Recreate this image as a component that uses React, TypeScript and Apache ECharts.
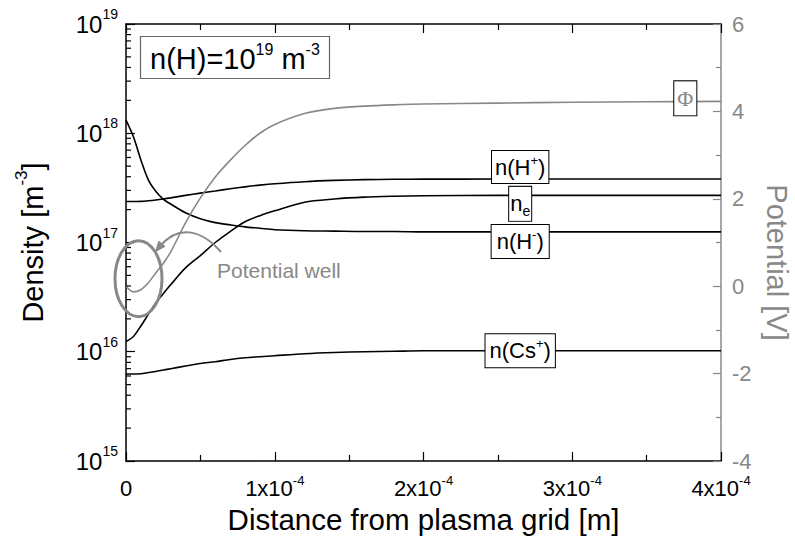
import React, { useEffect, useRef } from 'react';
import * as echarts from 'echarts';

// Distance from plasma grid [m]
const distance = [0, 5e-6, 1e-5, 1.5e-5, 2e-5, 2.5e-5, 3e-5, 4e-5, 5e-5, 6e-5, 7e-5, 8e-5, 9e-5, 1e-4, 1.2e-4, 1.4e-4, 1.6e-4, 1.8e-4, 2e-4, 2.5e-4, 3e-4, 3.5e-4, 4e-4];
// Densities [m^-3]
const nHminus = [1.32e18, 9.3e17, 5.7e17, 3.75e17, 2.95e17, 2.5e17, 2.25e17, 1.87e17, 1.65e17, 1.52e17, 1.45e17, 1.39e17, 1.35e17, 1.31e17, 1.28e17, 1.27e17, 1.26e17, 1.26e17, 1.25e17, 1.25e17, 1.25e17, 1.25e17, 1.25e17];
const nHplus = [2.37e17, 2.37e17, 2.38e17, 2.41e17, 2.45e17, 2.5e17, 2.56e17, 2.7e17, 2.83e17, 2.96e17, 3.1e17, 3.23e17, 3.35e17, 3.45e17, 3.6e17, 3.7e17, 3.76e17, 3.79e17, 3.8e17, 3.81e17, 3.81e17, 3.81e17, 3.81e17];
const nElectron = [1.24e16, 1.38e16, 1.72e16, 2.2e16, 2.8e16, 3.4e16, 4.1e16, 5.85e16, 7.6e16, 1.0e17, 1.26e17, 1.55e17, 1.76e17, 1.95e17, 2.34e17, 2.5e17, 2.6e17, 2.65e17, 2.68e17, 2.7e17, 2.7e17, 2.7e17, 2.7e17];
const nCsPlus = [6.25e15, 6.25e15, 6.3e15, 6.45e15, 6.6e15, 6.8e15, 7.0e15, 7.4e15, 7.8e15, 8.1e15, 8.5e15, 8.8e15, 9.0e15, 9.2e15, 9.6e15, 9.85e15, 1.0e16, 1.01e16, 1.02e16, 1.02e16, 1.02e16, 1.02e16, 1.02e16];
// Potential [V]
const potential = [0.0, -0.13, -0.08, 0.08, 0.3, 0.52, 0.78, 1.45, 2.02, 2.5, 2.88, 3.22, 3.5, 3.7, 3.95, 4.07, 4.12, 4.15, 4.17, 4.19, 4.21, 4.22, 4.23];

const xTickMultiples = ['0', '1', '2', '3', '4'];

const FONT = 'Liberation Sans, Arial, Helvetica, sans-serif';
const GRAY = '#888888';

const LABEL_X = 2.65e-4;
const PHI_LABEL_X = 3.76e-4;

function rich(size: number, sup: number, color = '#000', mainLH?: number) {
  return {
    b: { fontSize: size, lineHeight: mainLH ?? size + 4, color, fontFamily: FONT, fontWeight: 'normal' },
    s: { fontSize: sup, lineHeight: sup, verticalAlign: 'top', color, fontFamily: FONT, fontWeight: 'normal' },
    e: { fontSize: sup, lineHeight: sup, verticalAlign: 'bottom', color, fontFamily: FONT, fontWeight: 'normal' },
  };
}

function zip(ys: number[]) {
  return distance.map((x, i) => [x, ys[i]]);
}

function curveLabel(text: string, value: number, dy: number, pad: number[], r: any, x = LABEL_X) {
  return {
    symbol: 'circle',
    symbolSize: 1,
    silent: true,
    itemStyle: { color: 'transparent' },
    data: [{ coord: [x, value] }],
    label: {
      show: true,
      position: 'inside',
      offset: [0, dy],
      formatter: text,
      backgroundColor: '#fff',
      borderColor: '#000',
      borderWidth: 1,
      padding: pad,
      rich: r,
    },
  };
}

export default function App() {
  const ref = useRef<HTMLDivElement>(null);
  useEffect(() => {
    if (!ref.current) return;
    const chart = echarts.init(ref.current, undefined, { renderer: 'svg' });

    const logMinor: number[][] = [];
    for (let e = 15; e < 19; e++) {
      for (let k = 2; k <= 9; k++) logMinor.push([0, k * Math.pow(10, e)]);
    }

    const xAxisBase = {
      type: 'value',
      min: 0,
      max: 4e-4,
      interval: 1e-4,
      splitLine: { show: false },
      axisLine: { show: true, onZero: false, lineStyle: { color: '#000', width: 1.5 } },
      axisTick: { show: true, inside: true, length: 9, lineStyle: { color: '#000', width: 1.2 } },
      minorTick: { show: true, splitNumber: 2, length: 6, lineStyle: { color: '#000', width: 1.2 } },
    };

    const lineBase = {
      type: 'line',
      showSymbol: false,
      symbol: 'none',
      smooth: 0.3,
      xAxisIndex: 0,
      z: 2,
    };

    const option: any = {
      animation: false,
      backgroundColor: '#fff',
      textStyle: { fontFamily: FONT, fontWeight: 'normal' },
      grid: { left: 126, right: 74, top: 24, bottom: 89, outerBoundsMode: 'none' },
      title: {
        text: '{b|n(H)=10}{s|19}{b| m}{s|-3}',
        left: 140,
        top: 36,
        padding: [5, 10],
        borderColor: '#666',
        borderWidth: 1.2,
        backgroundColor: '#fff',
        textStyle: { fontWeight: 'normal', rich: rich(29, 16, '#000', 36) },
      },
      xAxis: [
        {
          ...xAxisBase,
          position: 'bottom',
          axisLabel: {
            margin: 13,
            formatter: (v: number) => {
              const i = Math.round(v * 1e4);
              const m = xTickMultiples[i];
              return i === 0 ? `{b|${m}}` : `{b|${m}x10}{s|-4}`;
            },
            rich: rich(22, 13, '#000', 28),
          },
          name: 'Distance from plasma grid [m]',
          nameLocation: 'middle',
          nameGap: 43,
          nameTextStyle: { fontSize: 29.5, color: '#000', fontFamily: FONT },
        },
        {
          ...xAxisBase,
          position: 'top',
          axisLabel: { show: false },
        },
      ],
      yAxis: [
        {
          type: 'log',
          logBase: 10,
          min: 1e15,
          max: 1e19,
          position: 'left',
          splitLine: { show: false },
          axisLine: { show: true, onZero: false, lineStyle: { color: '#000', width: 1.5 } },
          axisTick: { show: true, inside: true, length: 9, lineStyle: { color: '#000', width: 1.2 } },
          axisLabel: {
            margin: 8,
            formatter: (v: number) => `{b|10}{s|${Math.round(Math.log10(v))}}`,
            rich: rich(24, 14, '#000', 34),
          },
          name: '{b|Density [m}{s|-3}{b|]}',
          nameLocation: 'middle',
          nameRotate: 90,
          nameGap: 73,
          nameTextStyle: { rich: rich(29, 17, '#000', 40) },
        },
        {
          type: 'value',
          min: -4,
          max: 6,
          interval: 2,
          position: 'right',
          splitLine: { show: false },
          axisLine: { show: true, onZero: false, lineStyle: { color: GRAY, width: 1.5 } },
          axisTick: { show: true, inside: true, length: 8, lineStyle: { color: GRAY, width: 1.2 } },
          minorTick: { show: true, splitNumber: 2, length: 5, lineStyle: { color: GRAY, width: 1.2 } },
          axisLabel: { margin: 11, color: GRAY, fontSize: 22, lineHeight: 14, fontFamily: FONT },
          name: 'Potential [V]',
          nameLocation: 'middle',
          nameRotate: -90,
          nameGap: 40,
          nameTextStyle: { color: GRAY, fontSize: 29, fontFamily: FONT, padding: [0, 0, 0, 40] },
        },
      ],
      series: [
        {
          type: 'custom',
          xAxisIndex: 0,
          yAxisIndex: 0,
          silent: true,
          clip: false,
          z: 3,
          data: logMinor,
          renderItem: (_p: any, api: any) => {
            const pt = api.coord([0, api.value(1)]);
            return {
              type: 'line',
              shape: { x1: pt[0], y1: pt[1], x2: pt[0] + 5, y2: pt[1] },
              style: { stroke: '#000', lineWidth: 1.2 },
            };
          },
        },
        {
          ...lineBase,
          name: 'n(H-)',
          yAxisIndex: 0,
          data: zip(nHminus),
          lineStyle: { color: '#000', width: 1.6 },
          itemStyle: { color: '#000' },
          markPoint: curveLabel('{b|n(H}{s|-}{b|)}', nHminus[nHminus.length - 1], 9.5, [3, 5], rich(22, 13, '#000', 27)),
        },
        {
          ...lineBase,
          name: 'n(H+)',
          yAxisIndex: 0,
          data: zip(nHplus),
          lineStyle: { color: '#000', width: 1.6 },
          itemStyle: { color: '#000' },
          markPoint: curveLabel('{b|n(H}{s|+}{b|)}', nHplus[nHplus.length - 1], -12, [3, 3], rich(22, 13, '#000', 26)),
        },
        {
          ...lineBase,
          name: 'ne',
          yAxisIndex: 0,
          data: zip(nElectron),
          lineStyle: { color: '#000', width: 1.6 },
          itemStyle: { color: '#000' },
          markPoint: curveLabel('{b|n}{e|e}', nElectron[nElectron.length - 1], 8.5, [3, 1], rich(22, 14, '#000', 28)),
        },
        {
          ...lineBase,
          name: 'n(Cs+)',
          yAxisIndex: 0,
          data: zip(nCsPlus),
          lineStyle: { color: '#000', width: 1.6 },
          itemStyle: { color: '#000' },
          markPoint: curveLabel('{b|n(Cs}{s|+}{b|)}', nCsPlus[nCsPlus.length - 1], 0, [3, 4], rich(22, 13, '#000', 27)),
        },
        {
          ...lineBase,
          name: 'Phi',
          yAxisIndex: 1,
          data: zip(potential),
          lineStyle: { color: GRAY, width: 1.6 },
          itemStyle: { color: GRAY },
          markPoint: curveLabel('{p|Φ}', potential[potential.length - 1], -3, [4, 3], {
            p: { fontSize: 22, lineHeight: 26, color: GRAY, fontFamily: 'Liberation Serif, DejaVu Serif, serif' },
          }, PHI_LABEL_X),
        },
      ],
      graphic: [
        {
          type: 'ellipse',
          z: 10,
          shape: { cx: 138.5, cy: 278.7, rx: 23.5, ry: 38 },
          style: { stroke: GRAY, lineWidth: 3, fill: 'none' },
        },
        {
          type: 'bezierCurve',
          z: 10,
          shape: { x1: 221, y1: 252, cpx1: 200, cpy1: 228, cpx2: 178, cpy2: 226, x2: 161, y2: 245 },
          style: { stroke: GRAY, lineWidth: 2, fill: 'none' },
        },
        {
          type: 'polygon',
          z: 10,
          shape: { points: [[155.5, 251.5], [165, 246.4], [158.8, 241.2]] },
          style: { fill: GRAY, stroke: GRAY, lineWidth: 1 },
        },
        {
          type: 'text',
          z: 10,
          x: 217,
          y: 270,
          style: { text: 'Potential well', fill: GRAY, fontSize: 21, fontFamily: FONT, verticalAlign: 'middle' },
        },
      ],
    };

    chart.setOption(option);
    return () => chart.dispose();
  }, []);

  return (
    <div
      ref={ref}
      style={{ position: 'fixed', left: 0, top: 0, width: 795, height: 550, background: '#fff' }}
    />
  );
}
